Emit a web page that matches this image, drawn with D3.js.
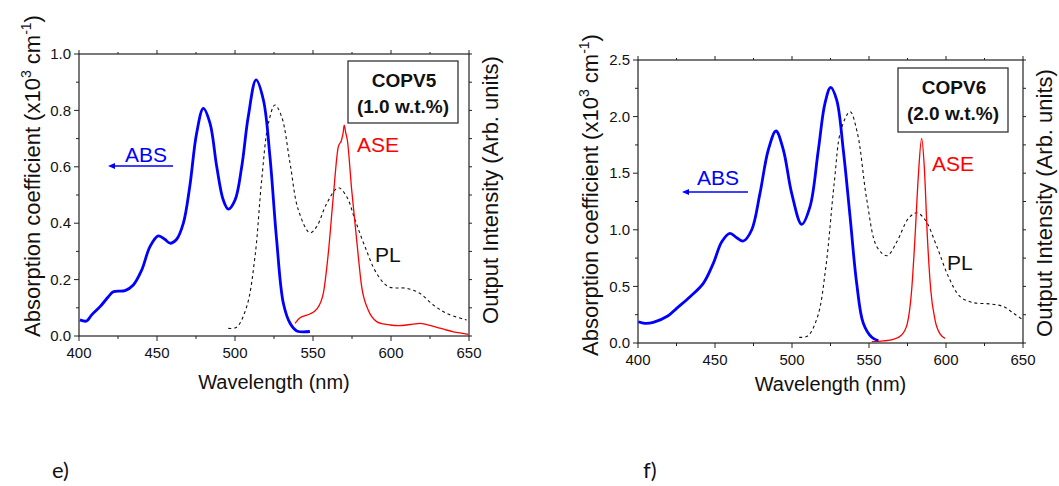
<!DOCTYPE html>
<html><head><meta charset="utf-8">
<script src="https://cdn.jsdelivr.net/npm/d3@7"></script>
<style>
body{margin:0;background:#fff;}
svg{display:block;font-family:"Liberation Sans",Arial,sans-serif;}
</style></head>
<body><svg id="c" width="1059" height="486"></svg>
<script>
// ---------- DATA ----------
const xTicks = [400, 450, 500, 550, 600, 650];
const yTicksE = [0.0, 0.2, 0.4, 0.6, 0.8, 1.0];
const yTicksF = [0.0, 0.5, 1.0, 1.5, 2.0, 2.5];

// Panel e) COPV5 (1.0 w.t.%)
const copv5Abs = [[400.6,0.057],[404.9,0.053],[408,0.074],[413.5,0.104],[418.8,0.139],[422,0.157],[429.5,0.161],[434.8,0.181],[440.2,0.234],[445.5,0.317],[450.8,0.355],[455,0.343],[458.3,0.329],[462.6,0.343],[466.9,0.40],[471,0.53],[475.4,0.719],[479.7,0.807],[484,0.754],[488.3,0.60],[492.5,0.482],[495.7,0.45],[500,0.482],[504.3,0.60],[508.5,0.778],[513.5,0.908],[518.2,0.837],[522.4,0.636],[526.7,0.34],[531,0.116],[535.3,0.045],[539.6,0.018],[548,0.016]];
const copv5PL = [[495.7,0.027],[501,0.031],[507.5,0.104],[512.8,0.281],[517.1,0.553],[521.4,0.754],[525.6,0.819],[529.9,0.778],[535.3,0.612],[540.6,0.447],[548,0.366],[552.4,0.388],[558.8,0.47],[566.2,0.526],[571.6,0.494],[577,0.411],[583.3,0.317],[590.8,0.222],[598.3,0.175],[610,0.169],[618.6,0.151],[627.1,0.11],[635.7,0.08],[648.5,0.057]];
const copv5ASE = [[538.5,0.045],[541.7,0.065],[545,0.072],[548,0.078],[552.4,0.095],[556.6,0.151],[559.8,0.293],[563,0.494],[566.2,0.671],[568.3,0.695],[569.3,0.72],[570,0.748],[571,0.72],[572,0.695],[574.8,0.518],[578,0.34],[581.2,0.175],[585.4,0.092],[590.8,0.051],[595,0.043],[599.4,0.039],[605,0.037],[610,0.039],[614,0.042],[618.6,0.045],[623,0.040],[629.3,0.031],[635,0.022],[640,0.015],[645,0.010],[649.6,0.006]];

// Panel f) COPV6 (2.0 w.t.%)
const copv6Abs = [[400.2,0.188],[404.5,0.174],[409.9,0.183],[419.6,0.241],[425.1,0.306],[433.8,0.409],[442.4,0.527],[448.9,0.704],[454.4,0.895],[459.7,0.969],[464.1,0.930],[468.4,0.901],[473.8,0.998],[479.2,1.322],[484.6,1.705],[489.6,1.873],[494.4,1.705],[499.8,1.322],[506.3,1.048],[511.7,1.204],[517.1,1.705],[521.4,2.117],[525.1,2.258],[529,2.147],[533.3,1.705],[537.7,1.116],[542,0.527],[546.3,0.174],[551.8,0.05],[556.1,0.02]];
const copv6PL = [[504.7,0.05],[510.2,0.062],[516.6,0.232],[522,0.674],[527.4,1.411],[531.8,1.882],[537.7,2.043],[542.5,1.852],[548.6,1.263],[555.1,0.851],[561.6,0.771],[568.1,0.895],[575.6,1.101],[581.1,1.151],[586.5,1.087],[594.1,0.851],[601.6,0.586],[609.2,0.409],[617.9,0.356],[628.8,0.345],[637.4,0.321],[643.9,0.262],[649.4,0.209]];
const copv6ASE = [[551.8,0.012],[559.3,0.018],[565.8,0.033],[571.2,0.071],[574.9,0.174],[577.7,0.468],[579.9,0.939],[582,1.469],[584.2,1.808],[585.9,1.557],[587.9,0.939],[590.1,0.468],[592.9,0.203],[596.6,0.071],[599.4,0.041]];

const panels = [
  {left:79, right:469, top:54, bottom:336, yMax:1.0, yTicks:yTicksE, yMinor:0.1,
   abs:copv5Abs, pl:copv5PL, ase:copv5ASE, name:"COPV5", conc:"(1.0 w.t.%)",
   box:[348,61,110,62], absLbl:[125,162], arrow:[173,108,166], aseLbl:[357,152], plLbl:[375,262],
   yTitle:[40,176], rTitle:[498,190], xTitleY:389, letter:"e)", letterX:52},
  {left:638, right:1023, top:60, bottom:343, yMax:2.5, yTicks:yTicksF, yMinor:0.25,
   abs:copv6Abs, pl:copv6PL, ase:copv6ASE, name:"COPV6", conc:"(2.0 w.t.%)",
   box:[898,68,110,64], absLbl:[697,185], arrow:[748,682,192], aseLbl:[932,171], plLbl:[947,270],
   yTitle:[598,195], rTitle:[1052,203], xTitleY:391, letter:"f)", letterX:643}
];

const svg = d3.select("#c");

panels.forEach(p => {
  const x = d3.scaleLinear().domain([400,650]).range([p.left,p.right]);
  const y = d3.scaleLinear().domain([0,p.yMax]).range([p.bottom,p.top]);
  const g = svg.append("g");

  const xMinor = d3.range(400,651,25);
  const yMinorVals = d3.range(0,p.yMax+1e-9,p.yMinor);

  // ticks all four sides (outward)
  xMinor.forEach(v => {
    const len = (v % 50 === 0) ? 5 : 3;
    g.append("line").attr("x1",x(v)).attr("x2",x(v)).attr("y1",p.bottom).attr("y2",p.bottom+len).attr("stroke","#222");
    g.append("line").attr("x1",x(v)).attr("x2",x(v)).attr("y1",p.top).attr("y2",p.top-len+1).attr("stroke","#222");
  });
  yMinorVals.forEach((v,i) => {
    const len = (i % 2 === 0) ? 5 : 3;
    g.append("line").attr("x1",p.left).attr("x2",p.left-len).attr("y1",y(v)).attr("y2",y(v)).attr("stroke","#222");
    g.append("line").attr("x1",p.right).attr("x2",p.right+3).attr("y1",y(v)).attr("y2",y(v)).attr("stroke","#222");
  });

  // axis frame
  g.append("rect").attr("x",p.left).attr("y",p.top).attr("width",p.right-p.left).attr("height",p.bottom-p.top)
    .attr("fill","none").attr("stroke","#222").attr("stroke-width",1.2);

  // tick labels
  xTicks.forEach(v => {
    g.append("text").attr("x",x(v)).attr("y",p.bottom+22).attr("text-anchor","middle")
      .attr("font-size",15).attr("fill","#111").text(v);
  });
  p.yTicks.forEach(v => {
    g.append("text").attr("x",p.left-8).attr("y",y(v)).attr("dy","0.35em").attr("text-anchor","end")
      .attr("font-size",15).attr("fill","#111").text(v.toFixed(1));
  });

  // axis titles
  g.append("text").attr("x",(p.left+p.right)/2).attr("y",p.xTitleY).attr("text-anchor","middle")
    .attr("font-size",20).attr("fill","#111").text("Wavelength (nm)");

  const yt = g.append("text").attr("transform",`translate(${p.yTitle[0]},${p.yTitle[1]}) rotate(-90)`)
    .attr("text-anchor","middle").attr("font-size",22).attr("fill","#111");
  yt.append("tspan").text("Absorption coefficient (x10");
  yt.append("tspan").attr("dy",-9).attr("font-size",14).text("3");
  yt.append("tspan").attr("dy",9).text(" cm");
  yt.append("tspan").attr("dy",-9).attr("font-size",14).text("-1");
  yt.append("tspan").attr("dy",9).text(")");

  g.append("text").attr("transform",`translate(${p.rTitle[0]},${p.rTitle[1]}) rotate(-90)`)
    .attr("text-anchor","middle").attr("font-size",22).attr("fill","#111").text("Output Intensity (Arb. units)");

  // curves
  const line = d3.line().x(d => x(d[0])).y(d => y(d[1])).curve(d3.curveCatmullRom.alpha(0.5));
  const lineLin = d3.line().x(d => x(d[0])).y(d => y(d[1])).curve(d3.curveMonotoneX);
  g.append("path").datum(p.pl).attr("d",line).attr("fill","none").attr("stroke","#111")
    .attr("stroke-width",1.1).attr("stroke-dasharray","3,3");
  g.append("path").datum(p.ase).attr("d",lineLin).attr("fill","none").attr("stroke","#ff0000").attr("stroke-width",1.3);
  g.append("path").datum(p.abs).attr("d",line).attr("fill","none").attr("stroke","#0000ff").attr("stroke-width",2.8);

  // legend box
  g.append("rect").attr("x",p.box[0]).attr("y",p.box[1]).attr("width",p.box[2]).attr("height",p.box[3])
    .attr("fill","#fff").attr("stroke","#333").attr("stroke-width",1.3);
  g.append("text").attr("x",p.box[0]+p.box[2]/2+1).attr("y",p.box[1]+26).attr("text-anchor","middle")
    .attr("font-size",19).attr("font-weight","bold").attr("fill","#111").text(p.name);
  g.append("text").attr("x",p.box[0]+p.box[2]/2).attr("y",p.box[1]+52).attr("text-anchor","middle")
    .attr("font-size",19).attr("font-weight","bold").attr("fill","#111").text(p.conc);

  // labels
  g.append("text").attr("x",p.absLbl[0]).attr("y",p.absLbl[1]).attr("font-size",21).attr("fill","#0000ff").text("ABS");
  g.append("line").attr("x1",p.arrow[0]).attr("x2",p.arrow[1]+5).attr("y1",p.arrow[2]).attr("y2",p.arrow[2])
    .attr("stroke","#0000ff").attr("stroke-width",1.3);
  g.append("path").attr("d",`M${p.arrow[1]},${p.arrow[2]} l7,-3 l0,6 z`).attr("fill","#0000ff");
  g.append("text").attr("x",p.aseLbl[0]).attr("y",p.aseLbl[1]).attr("font-size",21).attr("fill","#ff0000").text("ASE");
  g.append("text").attr("x",p.plLbl[0]).attr("y",p.plLbl[1]).attr("font-size",21).attr("fill","#111").text("PL");

  // panel letter
  svg.append("text").attr("x",p.letterX).attr("y",478).attr("font-family","Lato, 'Open Sans', sans-serif")
    .attr("font-size",22).attr("fill","#111").text(p.letter);
});
</script></body></html>
